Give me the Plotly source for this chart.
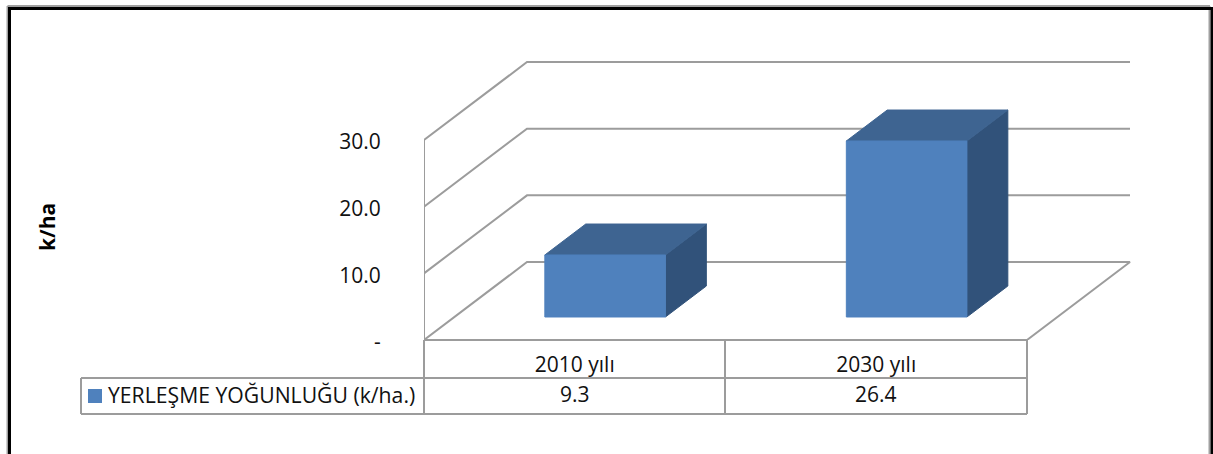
import plotly.graph_objects as go

categories = ["2010 yılı", "2030 yılı"]
series_name = "YERLEŞME YOĞUNLUĞU (k/ha.)"
values = [9.3, 26.4]
y_ticks = [0, 10, 20, 30]
y_tick_labels = ["-", "10.0", "20.0", "30.0"]
y_title = "k/ha"

W, H = 1213, 454
L, R, T, B = 424, 1131, 61, 340   # plot box in pixels
CAT_PX = 301.5                    # width of a category
UNIT_PX = 200 / 30                # pixels per value unit
DX = 103 / CAT_PX                 # depth vector, in axis units
DY = 78 / UNIT_PX
BAR_LEFT, BAR_RIGHT = 0.30, 0.70  # bar extent inside a category
D_FRONT, D_BACK = 0.295, 0.692    # bar extent along the depth
FONT = "Open Sans"
FS = 21
GRID = "#9c9c9c"
TXT = "#111111"
BLUE = "#4f81bd"


def proj(x, v, d):
    return x + d * DX, v + d * DY


def px(p):
    return (p - L) / (R - L)


def py(p):
    return (B - p) / (B - T)


def poly(pts):
    xs, ys = [], []
    for x, v, d in pts:
        a, b = proj(x, v, d)
        xs.append(a)
        ys.append(b)
    return xs, ys


fig = go.Figure()

# walls and floor
n_cat = len(categories)
gx, gy = [], []
for t in y_ticks[1:]:
    a, b = poly([(0, t, 0), (0, t, 1), (n_cat, t, 1)])
    gx += a + [None]
    gy += b + [None]
a, b = poly([(0, 0, 0), (0, 0, 1), (n_cat, 0, 1), (n_cat, 0, 0), (0, 0, 0)])
gx += a + [None]
gy += b + [None]
a, b = poly([(0, 0, 0), (0, y_ticks[-1], 0)])
gx += a
gy += b
fig.add_trace(go.Scatter(x=gx, y=gy, mode="lines", line=dict(color=GRID, width=2),
                         showlegend=False, hoverinfo="skip", cliponaxis=False))


def faces(fn):
    xs, ys = [], []
    for i, v in enumerate(values):
        a, b = poly(fn(i + BAR_LEFT, i + BAR_RIGHT, v))
        xs += a + [None]
        ys += b + [None]
    return xs, ys


side = faces(lambda l, r, v: [(r, 0, D_FRONT), (r, 0, D_BACK), (r, v, D_BACK), (r, v, D_FRONT), (r, 0, D_FRONT)])
top = faces(lambda l, r, v: [(l, v, D_FRONT), (l, v, D_BACK), (r, v, D_BACK), (r, v, D_FRONT), (l, v, D_FRONT)])
front = faces(lambda l, r, v: [(l, 0, D_FRONT), (r, 0, D_FRONT), (r, v, D_FRONT), (l, v, D_FRONT), (l, 0, D_FRONT)])
for (xs, ys), col in [(side, "#31527a"), (top, "#3e6491"), (front, BLUE)]:
    fig.add_trace(go.Scatter(x=xs, y=ys, mode="lines", fill="toself", fillcolor=col,
                             line=dict(color=col, width=1), showlegend=False,
                             hoverinfo="skip", cliponaxis=False))

shapes = []


def seg(x0, y0, x1, y1, color=GRID, width=2):
    shapes.append(dict(type="line", xref="paper", yref="paper", x0=px(x0), y0=py(y0),
                       x1=px(x1), y1=py(y1), line=dict(color=color, width=width)))


# data table
seg(424, 340, 424, 414)
seg(725, 340, 725, 414)
seg(1027, 340, 1027, 414)
seg(424, 340, 1027, 340)
seg(81, 378, 1027, 378)
seg(81, 414, 1027, 414)
seg(81, 378, 81, 414)

# outer frame
for x0, y0, x1, y1, c, w in [
    (7.5, 6, 1210, 6, "#a0a0a0", 2), (7.5, 6, 7.5, 454, "#a0a0a0", 2), (1209.5, 6, 1209.5, 454, "#a0a0a0", 2),
    (9, 8.5, 1212, 8.5, "#000000", 3), (9.5, 7, 9.5, 454, "#000000", 3), (1212, 7, 1212, 454, "#000000", 3),
]:
    seg(x0, y0, x1, y1, c, w)

# legend key
shapes.append(dict(type="rect", xref="paper", yref="paper", x0=px(88), x1=px(102), y0=py(403), y1=py(389),
                   fillcolor=BLUE, line=dict(width=0)))

annotations = [
    dict(xref="paper", yref="paper", x=px(47), y=py(227), xanchor="center", yanchor="middle",
         text=y_title, textangle=-90, showarrow=False,
         font=dict(family=FONT, size=21, color="#000000", weight="bold")),
    dict(xref="paper", yref="paper", x=px(106), y=py(394), xanchor="left", yanchor="middle",
         text=series_name, showarrow=False,
         font=dict(family=FONT, size=21.2, color=TXT)),
]
for i, v in enumerate(values):
    annotations.append(dict(xref="x", yref="paper", x=i + 0.5, y=py(394), xanchor="center", yanchor="middle",
                            text=f"{v:.1f}", showarrow=False,
                            font=dict(family=FONT, size=FS, color=TXT)))

fig.update_layout(
    width=W, height=H, autosize=False,
    margin=dict(l=L, r=W - R, t=T, b=H - B, pad=0),
    paper_bgcolor="white", plot_bgcolor="white",
    showlegend=False,
    shapes=shapes, annotations=annotations,
    xaxis=dict(range=[0, (R - L) / CAT_PX], tickmode="array", tickvals=[i + 0.5 for i in range(n_cat)],
               ticktext=categories, showgrid=False, zeroline=False, showline=False,
               ticks="outside", ticklen=1, tickcolor="rgba(0,0,0,0)", ticklabelstandoff=5,
               tickfont=dict(family=FONT, size=FS, color=TXT), automargin=False),
    yaxis=dict(range=[0, (B - T) / UNIT_PX], tickmode="array", tickvals=y_ticks,
               ticktext=y_tick_labels, showgrid=False, zeroline=False, showline=False,
               ticks="outside", ticklen=1, tickcolor="rgba(0,0,0,0)", ticklabelstandoff=37,
               ticklabelshift=2,
               tickfont=dict(family=FONT, size=FS, color=TXT), automargin=False),
)

fig.write_html("out.html", config=dict(displayModeBar=False),
               post_script="document.body.style.margin='0';document.body.style.overflow='hidden';")
